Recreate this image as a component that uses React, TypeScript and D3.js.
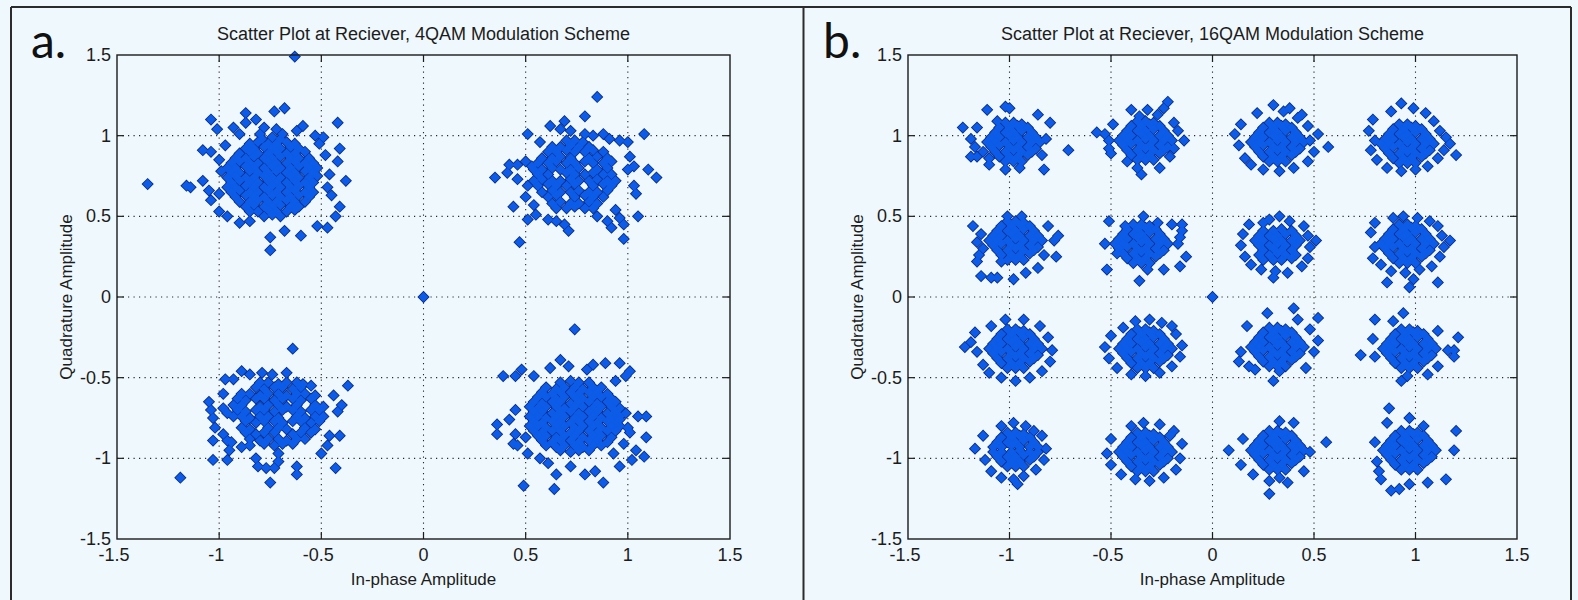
import React, { useEffect, useRef } from "react";
import * as d3 from "d3";

const W = 1578;
const H = 600;

const tickValues = [-1.5, -1, -0.5, 0, 0.5, 1, 1.5];
const titles = [
  "Scatter Plot at Reciever, 4QAM Modulation Scheme",
  "Scatter Plot at Reciever, 16QAM Modulation Scheme",
];
const panelTags = ["a.", "b."];
const xLabel = "In-phase Amplitude";
const yLabel = "Quadrature Amplitude";

// received symbols, in hundredths: "I,Q I,Q ..."
const originPoint = "0,0";

const qam4Clusters = [
  `-79,98 -74,99 -70,98 -85,95 -81,96 -76,95 -72,95 -67,96 -63,95 -87,92 -83,92 -78,93 -74,92 -70,92 -65,93 -61,92
   -90,89 -85,90 -81,89 -76,89 -72,90 -67,89 -63,89 -58,90 -92,86 -87,86 -83,87 -78,86 -74,86 -70,87 -65,86 -61,86 -56,86
   -94,83 -90,84 -85,83 -81,83 -76,84 -72,83 -67,83 -63,84 -58,83 -54,83 -96,80 -92,80 -87,81 -83,80 -78,80 -74,81 -70,80 -65,80 -61,81 -56,80 -52,80
   -94,77 -90,77 -85,78 -81,77 -76,77 -72,78 -67,77 -63,77 -58,78 -54,77 -96,74 -92,75 -87,74 -83,74 -78,75 -74,74 -70,74 -65,75 -61,74 -56,74 -52,75
   -94,71 -90,72 -85,71 -81,71 -76,72 -72,71 -67,71 -63,72 -58,71 -54,71 -96,68 -92,68 -87,69 -83,68 -78,68 -74,69 -70,68 -65,68 -61,69 -56,68
   -94,65 -90,66 -85,65 -81,65 -76,66 -72,65 -67,65 -63,66 -58,65 -54,65 -92,62 -87,63 -83,62 -78,62 -74,63 -70,62 -65,62 -61,63 -56,62
   -90,59 -85,59 -81,60 -76,59 -72,59 -67,60 -63,59 -58,59 -87,56 -83,57 -78,56 -74,56 -70,57 -65,56 -61,56 -85,53 -81,53 -76,54 -72,53 -67,53 -63,54
   -78,50 -74,51 -70,50
   -104,110 -101,104 -87,114 -82,110 -73,115 -68,117 -87,108 -93,105 -90,101 -78,105 -59,106 -42,108 -108,91 -104,90 -97,94
   -116,69 -114,68 -135,70 -108,72 -105,66 -104,60 -100,53 -96,50 -90,46 -85,47 -75,37 -75,29 -68,41 -60,38 -52,44 -47,43 -43,50
   -41,56 -38,72 -41,92 -42,84 -45,63 -49,99 -51,95 -53,100 -62,103 -69,101 -72,104 -80,101 -63,149 -100,85 -99,78 -100,64 -46,76 -47,68 -48,88`,
  `70,97 74,97 78,96 63,93 67,93 72,94 76,93 81,93 61,90 65,90 70,91 74,90 79,90 83,91 88,90
   58,86 63,86 67,87 72,86 81,86 85,87 90,86 56,83 61,83 65,84 70,83 74,83 79,84 83,83 88,83 92,84
   54,79 58,79 63,80 67,79 72,79 76,80 85,79 90,80 56,76 61,76 70,77 74,76 79,76 83,77 88,76 92,76
   54,72 58,73 63,72 67,72 72,73 76,72 81,72 85,73 90,72 94,72 56,69 61,70 65,69 70,69 74,70 83,69 88,70 92,69
   58,65 63,66 67,65 72,65 76,66 81,65 85,65 90,66 61,62 65,63 74,62 79,63 83,62 88,62
   63,58 67,59 72,58 76,58 81,59 85,58 65,55 70,55 74,56 79,55 83,55
   85,124 79,112 69,109 62,106 51,101 57,96 67,104 72,103 79,101 83,100 88,101 91,98 96,97 100,96 108,101 101,87 103,81 100,79
   110,79 114,74 103,69 104,64 94,54 105,50 96,49 98,45 92,43 90,47 85,50 98,36 71,41 69,45 65,47 61,48 55,51 51,48
   47,34 44,56 35,74 41,77 42,82 46,82 46,73 50,84 51,69 50,62 53,81 54,57`,
  `-80,-53 -76,-53 -71,-54 -67,-53 -62,-53 -82,-56 -78,-57 -73,-56 -69,-56 -64,-57 -60,-56
   -89,-60 -85,-60 -80,-61 -76,-60 -71,-60 -67,-61 -62,-60 -58,-60 -53,-61 -91,-63 -87,-64 -82,-63 -78,-63 -73,-64 -69,-63 -64,-63 -60,-64 -55,-63
   -93,-67 -89,-67 -80,-68 -76,-67 -71,-67 -67,-68 -62,-67 -53,-67 -49,-68 -91,-70 -87,-71 -82,-70 -78,-70 -73,-71 -69,-70 -64,-70 -60,-71 -55,-70 -51,-70
   -93,-74 -89,-74 -85,-75 -80,-74 -76,-74 -71,-75 -62,-74 -58,-75 -53,-74 -49,-74 -87,-77 -82,-78 -78,-77 -73,-77 -69,-78 -64,-77 -60,-77 -55,-78 -51,-77
   -89,-81 -85,-82 -76,-81 -71,-81 -67,-82 -58,-81 -53,-82 -87,-84 -82,-85 -78,-84 -73,-84 -64,-85 -60,-84 -55,-84
   -85,-88 -80,-89 -76,-88 -71,-88 -67,-89 -62,-88 -58,-88 -78,-91 -73,-92 -69,-91 -64,-91
   -119,-112 -64,-32 -89,-46 -85,-48 -79,-47 -74,-48 -67,-47 -97,-51 -93,-51 -59,-54 -55,-55 -37,-55 -44,-61 -40,-67 -42,-71
   -41,-86 -46,-86 -47,-92 -50,-97 -43,-106 -62,-105 -62,-110 -71,-102 -73,-106 -77,-106 -81,-105 -75,-115 -71,-97 -96,-101
   -103,-101 -103,-89 -105,-65 -104,-70 -103,-75 -102,-81 -98,-85 -96,-89 -95,-95 -94,-90 -98,-60 -98,-69 -96,-72 -89,-93 -85,-92 -82,-100`,
  `67,-53 72,-52 76,-53 81,-53 60,-56 65,-57 69,-56 74,-56 78,-57 83,-56 87,-56 58,-59 63,-60 67,-59 72,-59 76,-60 81,-59 85,-59 90,-60
   56,-62 60,-62 65,-63 69,-62 74,-62 78,-63 83,-62 87,-62 92,-63 54,-65 58,-66 63,-65 67,-65 72,-66 76,-65 81,-65 85,-66 90,-65 94,-65
   52,-68 56,-69 60,-68 65,-68 69,-69 74,-68 78,-68 83,-69 87,-68 92,-68 96,-69 54,-71 58,-71 63,-72 67,-71 72,-71 76,-72 81,-71 85,-71 90,-72 94,-71
   52,-74 56,-74 60,-75 65,-74 69,-74 74,-75 78,-74 83,-74 87,-75 92,-74 96,-74 54,-77 58,-78 63,-77 67,-77 72,-78 76,-77 81,-77 85,-78 90,-77 94,-77
   52,-80 56,-80 60,-81 65,-80 69,-80 74,-81 78,-80 83,-80 87,-81 92,-80 96,-80 54,-83 58,-84 63,-83 67,-83 72,-84 76,-83 81,-83 85,-84 90,-83 94,-83
   56,-86 60,-86 65,-87 69,-86 74,-86 78,-87 83,-86 87,-86 92,-87 58,-89 63,-90 67,-89 72,-89 76,-90 81,-89 85,-89 90,-90
   60,-92 65,-93 69,-92 74,-92 78,-93 83,-92 87,-92 67,-95 72,-96 76,-95 81,-95
   74,-20 67,-39 48,-45 39,-49 45,-49 54,-49 62,-44 71,-43 80,-45 83,-42 89,-41 96,-41 101,-46 99,-49 94,-52 105,-74 109,-74
   109,-87 101,-84 104,-95 108,-99 102,-101 96,-105 88,-115 84,-108 79,-110 72,-105 65,-110 64,-119 49,-117 57,-100 61,-103
   51,-97 46,-92 44,-91 36,-85 36,-79 42,-76 45,-70 45,-85 50,-87 93,-97 98,-91 100,-81 96,-76 99,-72`,
];

const qam16Clusters = [
  `-102,108 -98,108 -94,107 -105,105 -100,105 -96,106 -91,105 -107,102 -102,102 -98,102 -94,103 -89,102 -109,99 -105,99 -100,100 -96,99 -91,99 -87,99
   -111,96 -107,96 -102,96 -98,97 -94,96 -89,96 -85,96 -109,93 -105,94 -100,93 -96,93 -91,93 -87,92 -107,90 -102,90 -98,91 -94,90 -89,90
   -105,87 -100,87 -96,87 -91,88 -102,84 -98,84 -94,84
   -123,105 -111,116 -102,118 -100,117 -119,98 -116,105 -117,93 -119,87 -116,87 -110,86 -110,82 -102,79 -95,80 -83,79 -86,113 -80,108 -82,98 -71,91 -106,109 -84,88 -113,90`,
  `-37,109 -33,109 -29,108 -40,106 -35,106 -31,107 -26,106 -42,103 -37,103 -33,103 -29,104 -24,103 -44,100 -40,100 -35,101 -31,100 -26,100 -22,100
   -46,97 -42,97 -37,97 -33,98 -29,97 -24,97 -20,97 -44,94 -40,95 -35,94 -31,94 -26,94 -22,93 -42,91 -37,91 -33,92 -29,91 -24,91
   -40,88 -35,88 -31,88 -26,89 -37,85 -33,85 -29,85
   -22,121 -40,116 -32,116 -24,117 -36,112 -27,113 -19,108 -57,102 -53,101 -49,107 -51,97 -51,92 -50,89 -14,97 -17,103 -19,92 -21,87 -26,80 -35,76 -37,80 -42,84`,
  `28,108 32,108 36,107 25,105 30,105 34,106 39,105 23,102 28,102 32,102 36,103 41,102 21,99 25,99 30,100 34,99 39,99 43,99
   19,96 23,96 28,96 32,97 36,96 41,96 45,96 21,93 25,94 30,93 34,93 39,93 43,92 23,90 28,90 32,91 36,90 41,90
   25,87 30,87 34,87 39,88 28,84 32,84 36,84
   30,119 38,117 22,114 44,113 14,107 11,101 13,94 16,86 19,82 25,79 33,78 40,80 47,84 50,90 48,97 52,101 47,106 42,111 57,93 35,115`,
  `92,107 96,107 100,106 89,104 94,104 98,105 103,104 87,101 92,101 96,101 100,102 105,101 85,98 89,98 94,99 98,98 103,98 107,98
   83,95 87,95 92,95 96,96 100,95 105,95 109,95 85,92 89,93 94,92 98,92 103,92 107,91 87,89 92,89 96,90 100,89 105,89
   89,86 94,86 98,86 103,87 92,83 96,83 100,83
   93,120 99,117 88,115 105,114 79,110 77,103 80,97 78,91 81,85 86,80 93,78 100,79 106,81 111,86 114,91 117,95 120,88 112,103 109,109 115,99`,
  `-101,47 -97,47 -93,46 -104,44 -99,44 -95,45 -90,44 -106,41 -101,41 -97,41 -93,42 -88,41 -108,38 -104,38 -99,39 -95,38 -90,38 -86,38
   -110,35 -106,35 -101,35 -97,36 -93,35 -88,35 -84,35 -108,32 -104,33 -99,32 -95,32 -90,32 -86,31 -106,29 -101,29 -97,30 -93,29 -88,29
   -104,26 -99,26 -95,26 -90,27 -101,23 -97,23 -93,23
   -118,44 -114,39 -116,34 -113,30 -115,26 -116,22 -114,13 -109,12 -106,12 -98,11 -92,15 -86,18 -83,26 -77,25 -76,38 -78,35 -81,44 -101,50 -94,50 -104,22`,
  `-39,45 -35,45 -31,44 -42,42 -37,42 -33,43 -28,42 -44,39 -39,39 -35,39 -31,40 -26,39 -46,36 -42,36 -37,37 -33,36 -28,36 -24,36
   -48,33 -44,33 -39,33 -35,34 -31,33 -26,33 -22,33 -46,30 -42,31 -37,30 -33,30 -28,30 -24,29 -44,27 -39,27 -35,28 -31,27 -26,27
   -42,24 -37,24 -33,24 -28,25 -39,21 -35,21 -31,21
   -51,47 -53,33 -52,17 -43,44 -34,50 -27,46 -20,45 -15,45 -15,41 -16,37 -17,33 -13,25 -16,19 -24,17 -36,10 -32,17 -47,27`,
  `25,41 30,41 34,42 39,41 23,38 28,38 32,38 36,39 41,38 25,35 30,36 34,35 39,35 21,35 43,35
   23,32 28,32 32,33 36,32 41,32 25,29 30,30 34,29 39,29 23,26 28,26 32,27 36,26 41,26 25,23 30,23 34,23 39,24
   28,48 33,50 25,46 38,47 18,45 15,39 14,32 16,25 19,20 24,17 31,16 37,15 44,19 47,24 48,31 47,38 45,44 30,12 51,35`,
  `92,45 96,45 100,44 89,42 94,42 98,43 103,42 87,39 92,39 96,39 100,40 105,39 85,36 89,36 94,37 98,36 103,36 107,36
   83,33 87,33 92,33 96,34 100,33 105,33 109,33 85,30 89,31 94,30 98,30 103,30 107,29 87,27 92,27 96,28 100,27 105,27
   89,24 94,24 98,24 103,25 92,21 96,21 100,21
   94,50 89,49 101,49 107,47 80,46 78,40 80,31 79,24 83,20 88,16 95,15 102,17 108,19 112,25 114,31 113,38 111,44 111,9 97,6 86,9 99,11 117,35`,
  `-101,-20 -97,-20 -93,-21 -104,-23 -99,-23 -95,-22 -90,-23 -106,-26 -101,-26 -97,-26 -93,-25 -88,-26 -108,-29 -104,-29 -99,-28 -95,-29 -90,-29 -86,-29
   -110,-32 -106,-32 -101,-32 -97,-31 -93,-32 -88,-32 -84,-32 -108,-35 -104,-34 -99,-35 -95,-35 -90,-35 -86,-36 -106,-38 -101,-38 -97,-37 -93,-38 -88,-38
   -104,-41 -99,-41 -95,-41 -90,-40 -101,-44 -97,-44 -93,-44
   -119,-28 -116,-34 -117,-22 -113,-42 -110,-47 -104,-50 -97,-52 -90,-50 -84,-46 -80,-40 -79,-33 -81,-25 -85,-18 -93,-14 -102,-14 -109,-18 -122,-31`,
  `-37,-20 -33,-20 -29,-21 -40,-23 -35,-23 -31,-22 -26,-23 -42,-26 -37,-26 -33,-26 -29,-25 -24,-26 -44,-29 -40,-29 -35,-28 -31,-29 -26,-29 -22,-29
   -46,-32 -42,-32 -37,-32 -33,-31 -29,-32 -24,-32 -20,-32 -44,-35 -40,-34 -35,-35 -31,-35 -26,-35 -22,-36 -42,-38 -37,-38 -33,-37 -29,-38 -24,-38
   -40,-41 -35,-41 -31,-41 -26,-40 -37,-44 -33,-44 -29,-44
   -31,-14 -38,-15 -25,-16 -44,-19 -50,-24 -53,-31 -51,-38 -47,-44 -40,-48 -33,-49 -26,-47 -20,-43 -16,-37 -15,-30 -18,-23 -20,-18`,
  `28,-19 32,-19 36,-20 25,-22 30,-22 34,-21 39,-22 23,-25 28,-25 32,-25 36,-24 41,-25 21,-28 25,-28 30,-27 34,-28 39,-28 43,-28
   19,-31 23,-31 28,-31 32,-30 36,-31 41,-31 45,-31 21,-34 25,-33 30,-34 34,-34 39,-34 43,-35 23,-37 28,-37 32,-36 36,-37 41,-37
   25,-40 30,-40 34,-40 39,-39 28,-43 32,-43 36,-43
   27,-10 40,-7 52,-13 52,-27 42,-14 17,-18 14,-34 13,-40 18,-43 21,-45 30,-52 33,-46 46,-44 50,-34 48,-20`,
  `93,-20 97,-20 101,-21 90,-23 95,-23 99,-22 104,-23 88,-26 93,-26 97,-26 101,-25 106,-26 86,-29 90,-29 95,-28 99,-29 104,-29 108,-29
   84,-32 88,-32 93,-32 97,-31 101,-32 106,-32 110,-32 86,-35 90,-34 95,-35 99,-35 104,-35 108,-36 88,-38 93,-38 97,-37 101,-38 106,-38
   90,-41 95,-41 99,-41 104,-40 93,-44 97,-44 101,-44
   94,-10 80,-14 89,-15 79,-26 73,-36 80,-37 121,-25 119,-33 119,-37 116,-33 111,-43 106,-48 93,-52 96,-49 111,-21`,
  `-101,-84 -97,-84 -93,-85 -104,-87 -99,-87 -95,-86 -90,-87 -106,-90 -101,-90 -97,-90 -93,-89 -88,-90 -108,-93 -104,-93 -99,-92 -95,-93 -90,-93 -86,-93
   -108,-96 -104,-96 -99,-96 -95,-95 -90,-96 -86,-96 -106,-99 -101,-99 -97,-99 -93,-98 -88,-99 -104,-102 -99,-102 -95,-102 -90,-101
   -101,-105 -97,-105 -93,-105
   -98,-78 -92,-80 -104,-80 -88,-83 -117,-94 -113,-86 -112,-101 -109,-108 -104,-112 -98,-113 -93,-111 -87,-107 -83,-101 -82,-94 -84,-86 -96,-116`,
  `-37,-84 -33,-84 -29,-85 -40,-87 -35,-87 -31,-86 -26,-87 -42,-90 -37,-90 -33,-90 -29,-89 -24,-90 -44,-93 -40,-93 -35,-92 -31,-93 -26,-93 -22,-93
   -46,-96 -42,-96 -37,-96 -33,-95 -29,-96 -24,-96 -20,-96 -44,-99 -40,-98 -35,-99 -31,-99 -26,-99 -22,-100 -42,-102 -37,-102 -33,-101 -29,-102 -24,-102
   -40,-105 -35,-105 -31,-105 -26,-104 -37,-108 -33,-108 -29,-108
   -34,-78 -26,-79 -40,-80 -19,-83 -50,-88 -52,-97 -50,-104 -45,-110 -38,-113 -31,-114 -24,-112 -18,-107 -16,-100 -15,-91 -21,-86`,
  `28,-83 32,-83 36,-84 25,-86 30,-86 34,-85 39,-86 23,-89 28,-89 32,-89 36,-88 41,-89 21,-92 25,-92 30,-91 34,-92 39,-92 43,-92
   19,-95 23,-95 28,-95 32,-94 36,-95 41,-95 45,-95 21,-98 25,-97 30,-98 34,-98 39,-98 43,-99 23,-101 28,-101 32,-100 36,-101 41,-101
   25,-104 30,-104 34,-104 39,-103 28,-107 32,-107 36,-107
   8,-95 15,-88 14,-104 20,-110 28,-114 28,-122 33,-112 37,-115 45,-108 56,-90 48,-96 40,-78 33,-77`,
  `93,-83 97,-83 101,-84 90,-86 95,-86 99,-85 104,-86 88,-89 93,-89 97,-89 101,-88 106,-89 86,-92 90,-92 95,-91 99,-92 104,-92 108,-92
   84,-95 88,-95 93,-95 97,-94 101,-95 106,-95 110,-95 86,-98 90,-97 95,-98 99,-98 104,-98 108,-99 88,-101 93,-101 97,-100 101,-101 106,-101
   90,-104 95,-104 99,-104 104,-103 93,-107 97,-107 101,-107
   87,-69 86,-78 97,-75 104,-80 120,-83 119,-95 115,-113 106,-115 97,-116 92,-119 88,-120 83,-113 80,-90 81,-102 82,-108`,
];

function parsePoints(s: string): [number, number][] {
  return s.trim().split(/\s+/).map(p => {
    const [i, q] = p.split(",").map(Number);
    return [i / 100, q / 100] as [number, number];
  });
}

const FONT = "'Liberation Sans', Arial, sans-serif";
const INK = "#1c1c1c";
const BG = "#eff8fc";
const MARK_FILL = "#0d5ce8";
const MARK_EDGE = "#0a2c8a";

const panels = [
  { left: 117, right: 730, tagX: 31, clusters: qam4Clusters },
  { left: 908, right: 1517, tagX: 823, clusters: qam16Clusters },
];
const plotTop = 55;
const plotBottom = 539;

function drawPanel(svg, cfg, idx) {
  const { left, right } = cfg;
  const x = d3.scaleLinear().domain([-1.5, 1.5]).range([left, right]);
  const y = d3.scaleLinear().domain([-1.5, 1.5]).range([plotBottom, plotTop]);
  const inner = tickValues.slice(1, -1);

  const g = svg.append("g");

  // dotted grid
  g.selectAll(".vg").data(inner).enter().append("line")
    .attr("x1", d => x(d)).attr("x2", d => x(d))
    .attr("y1", plotTop).attr("y2", plotBottom)
    .attr("stroke", "#2a2a2a").attr("stroke-width", 1.1)
    .attr("stroke-dasharray", "1.2,4.3")
  g.selectAll(".hg").data(inner).enter().append("line")
    .attr("y1", d => y(d)).attr("y2", d => y(d))
    .attr("x1", left).attr("x2", right)
    .attr("stroke", "#2a2a2a").attr("stroke-width", 1.1)
    .attr("stroke-dasharray", "1.2,4.3")

  const pts = cfg.clusters.flatMap(parsePoints).concat(parsePoints(originPoint));
  const place = d => `translate(${x(d[0])},${y(d[1])}) rotate(45)`;

  // edged diamonds first, then slightly larger plain fills over them: the edge only
  // survives on the outside of a clump, so dense cores read as solid blue
  g.append("g").selectAll("path").data(pts).enter().append("path")
    .attr("d", d3.symbol().type(d3.symbolSquare).size(42))
    .attr("transform", place)
    .attr("fill", MARK_FILL).attr("stroke", MARK_EDGE).attr("stroke-width", 2.2)
  g.append("g").selectAll("path").data(pts).enter().append("path")
    .attr("d", d3.symbol().type(d3.symbolSquare).size(49))
    .attr("transform", place)
    .attr("fill", MARK_FILL)

  // axes box + inward ticks
  g.append("rect")
    .attr("x", left).attr("y", plotTop)
    .attr("width", right - left).attr("height", plotBottom - plotTop)
    .attr("fill", "none").attr("stroke", INK).attr("stroke-width", 1.4)
  const tl = 7;
  inner.forEach(v => {
    g.append("line").attr("x1", x(v)).attr("x2", x(v)).attr("y1", plotBottom).attr("y2", plotBottom - tl).attr("stroke", INK).attr("stroke-width", 1.2)
    g.append("line").attr("x1", x(v)).attr("x2", x(v)).attr("y1", plotTop).attr("y2", plotTop + tl).attr("stroke", INK).attr("stroke-width", 1.2)
    g.append("line").attr("y1", y(v)).attr("y2", y(v)).attr("x1", left).attr("x2", left + tl).attr("stroke", INK).attr("stroke-width", 1.2)
    g.append("line").attr("y1", y(v)).attr("y2", y(v)).attr("x1", right).attr("x2", right - tl).attr("stroke", INK).attr("stroke-width", 1.2)
  })

  // tick labels
  g.selectAll(".xt").data(tickValues).enter().append("text")
    .attr("x", d => x(d) - (d < 0 ? 3 : 0)).attr("y", plotBottom + 22)
    .attr("text-anchor", "middle")
    .style("font-family", FONT).style("font-size", "18px").attr("fill", INK)
    .text(d => String(d))
  g.selectAll(".yt").data(tickValues).enter().append("text")
    .attr("x", left - 6).attr("y", d => y(d) + 6)
    .attr("text-anchor", "end")
    .style("font-family", FONT).style("font-size", "18px").attr("fill", INK)
    .text(d => String(d))

  // title and axis labels
  g.append("text")
    .attr("x", (left + right) / 2).attr("y", 40)
    .attr("text-anchor", "middle")
    .style("font-family", FONT).style("font-size", "18px").attr("fill", INK)
    .text(titles[idx])
  g.append("text")
    .attr("x", (left + right) / 2).attr("y", 585)
    .attr("text-anchor", "middle")
    .style("font-family", FONT).style("font-size", "17px").attr("fill", INK)
    .text(xLabel)
  g.append("text")
    .attr("transform", `translate(${left - 45},${(plotTop + plotBottom) / 2}) rotate(-90)`)
    .attr("text-anchor", "middle")
    .style("font-family", FONT).style("font-size", "17px").attr("fill", INK)
    .text(yLabel)

  // panel letter
  g.append("text")
    .attr("x", cfg.tagX).attr("y", 58)
    .style("font-family", "Lato, 'Open Sans', sans-serif").style("font-size", "48px").attr("fill", "#111")
    .text(panelTags[idx])
}

function drawFigure(node) {
  const svg = d3.select(node);
  svg.selectAll("*").remove();

  svg.append("rect").attr("width", W).attr("height", H).attr("fill", BG);

  // frame around the two panels
  const frame = svg.append("g").attr("stroke", "#2b2b2b").attr("stroke-width", 2);
  frame.append("line").attr("x1", 11).attr("x2", 1571).attr("y1", 7).attr("y2", 7);
  [11, 803.5, 1571].forEach(fx => {
    frame.append("line").attr("x1", fx).attr("x2", fx).attr("y1", 7).attr("y2", H);
  });

  panels.forEach((p, i) => drawPanel(svg, p, i));
}

export default function App() {
  const ref = useRef<SVGSVGElement>(null);

  useEffect(() => {
    if (ref.current) drawFigure(ref.current);
  }, []);

  return (
    <svg
      ref={ref}
      width={W}
      height={H}
      style={{ position: "absolute", left: 0, top: 0, display: "block" }}
    />
  );
}
